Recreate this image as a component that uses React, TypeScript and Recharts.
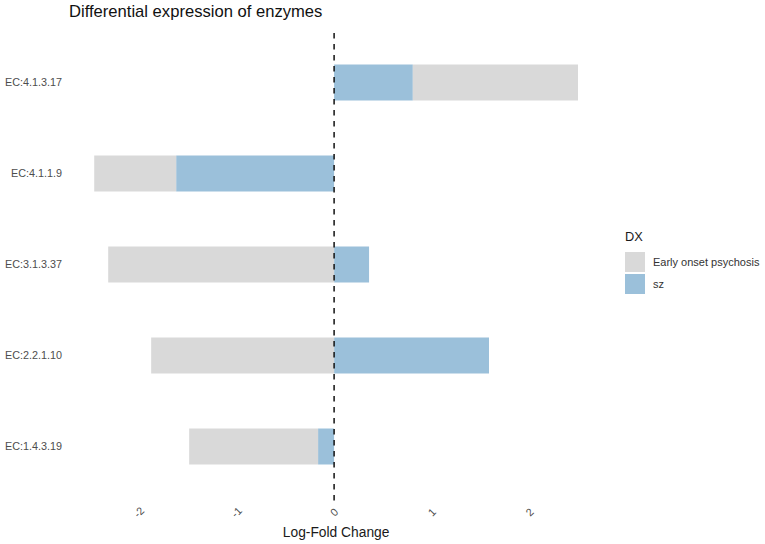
import React from "react";
import { BarChart, Bar, XAxis, YAxis, ReferenceLine } from "recharts";

const categories = ["EC:4.1.3.17", "EC:4.1.1.9", "EC:3.1.3.37", "EC:2.2.1.10", "EC:1.4.3.19"];
const szValues = [0.806, -1.617, 0.358, 1.586, -0.164];
const earlyOnsetValues = [1.691, -0.839, -2.313, -1.873, -1.32];
const xTicks = [-2, -1, 0, 1, 2];
const seriesNames = ["Early onset psychosis", "sz"];
const seriesColors = ["#D9D9D9", "#9BC0DA"];

const data = categories.map((ec, i) => ({ ec, sz: szValues[i], eop: earlyOnsetValues[i] }));

const FONT = "'Liberation Sans', Arial, Helvetica, sans-serif";

const YTick = (props: any) => {
  const { x, y, payload } = props;
  return (
    <text x={x} y={y} textAnchor="end" dominantBaseline="central" fontSize={10.8} fill="#4D4D4D" fontFamily={FONT}>
      {payload.value}
    </text>
  );
};

const XTick = (props: any) => {
  const { x, y, payload } = props;
  const cy = y + 11.5;
  return (
    <text
      x={x}
      y={cy}
      textAnchor="middle"
      dominantBaseline="central"
      fontSize={10.8}
      fill="#4D4D4D"
      fontFamily={FONT}
      transform={`rotate(-45 ${x} ${cy})`}
    >
      {String(payload.value)}
    </text>
  );
};

const LegendBox = () => (
  <div style={{ position: "absolute", left: 625, top: 230, width: 140, fontFamily: FONT }}>
    <div style={{ fontSize: 12.8, color: "#1A1A1A", lineHeight: "14px", marginBottom: 8 }}>DX</div>
    {seriesNames.map((name, i) => (
      <div key={name} style={{ display: "flex", alignItems: "center", height: 20, marginBottom: 2 }}>
        <div style={{ width: 20, height: 20, background: seriesColors[i] }} />
        <span style={{ marginLeft: 8, fontSize: 11, color: "#333" }}>{name}</span>
      </div>
    ))}
  </div>
);

export default function App() {
  return (
    <div style={{ position: "relative", width: 765, height: 544, background: "#fff", fontFamily: FONT }}>
      <style>{`body{margin:0;}`}</style>
      <div
        style={{
          position: "absolute",
          left: 69,
          top: 2,
          fontSize: 16.6,
          color: "#111",
          fontFamily: FONT,
          lineHeight: "19px",
          whiteSpace: "nowrap",
        }}
      >
        Differential expression of enzymes
      </div>
      <BarChart
        width={765}
        height={544}
        data={data}
        layout="vertical"
        stackOffset="sign"
        margin={{ top: 27.4, right: 162.8, left: 0, bottom: 0 }}
        barCategoryGap={0}
      >
        <XAxis
          type="number"
          domain={[-2.704, 2.745]}
          ticks={xTicks}
          allowDataOverflow
          axisLine={false}
          tickLine={false}
          tickSize={0}
          tickMargin={0}
          height={43.4}
          tick={<XTick />}
          label={{
            value: "Log-Fold Change",
            position: "insideBottom",
            offset: 7,
            fontSize: 13.8,
            fill: "#1A1A1A",
            fontFamily: FONT,
          }}
        />
        <YAxis
          type="category"
          dataKey="ec"
          width={70}
          axisLine={false}
          tickLine={false}
          tickSize={0}
          tickMargin={8}
          padding={{ top: 9.1, bottom: 9.1 }}
          tick={<YTick />}
          interval={0}
        />
        <Bar dataKey="sz" name="sz" stackId="a" fill={seriesColors[1]} barSize={36} isAnimationActive={false} />
        <Bar dataKey="eop" name="Early onset psychosis" stackId="a" fill={seriesColors[0]} barSize={36} isAnimationActive={false} />
        <ReferenceLine x={0} stroke="#111" strokeWidth={1.5} strokeDasharray="5.5 5.5" />
      </BarChart>
      <LegendBox />
    </div>
  );
}
